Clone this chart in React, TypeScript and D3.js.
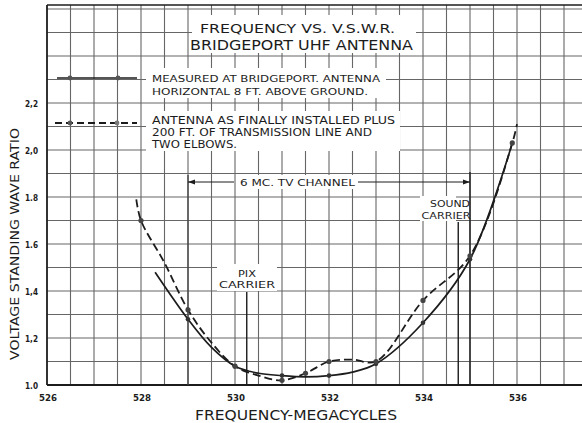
import React from "react";
import * as d3 from "d3";

// ---- data ----
const measuredFreq = [528.3, 529, 529.5, 530, 530.5, 531, 531.5, 532, 532.5, 533, 534, 535, 535.9];
const measuredVswr = [1.48, 1.28, 1.16, 1.08, 1.05, 1.04, 1.035, 1.04, 1.055, 1.09, 1.265, 1.535, 2.03];
const measuredMarkers = [529, 530, 531, 532, 533, 534, 535];

const installedFreq = [527.9, 528, 528.5, 529, 529.5, 530, 530.5, 531, 531.5, 532, 532.5, 533, 534, 535, 535.9, 536.0];
const installedVswr = [1.79, 1.7, 1.52, 1.32, 1.18, 1.08, 1.04, 1.02, 1.05, 1.1, 1.108, 1.1, 1.36, 1.55, 2.03, 2.11];
const installedMarkers = [528, 529, 530, 531, 531.5, 532, 533, 534, 535, 535.9];

const xTickValues = [526, 528, 530, 532, 534, 536];
const xTickLabels = ["526", "528", "530", "532", "534", "536"];
const yTickValues = [1.0, 1.2, 1.4, 1.6, 1.8, 2.0, 2.2];
const yTickLabels = ["1.0", "1,2", "1,4", "1.6", "1.8", "2,0", "2,2"];

const channelStart = 529;
const channelEnd = 535;
const pixCarrier = 530.25;
const soundCarrier = 534.75;

const W = 582;
const H = 423;
const FONT = "'DejaVu Sans', 'Liberation Sans', Arial, sans-serif";
const INK = "#1c1c1c";

export default function App() {
  const x = d3.scaleLinear().domain([526, 536]).range([47, 517]);
  const y = d3.scaleLinear().domain([1.0, 2.2]).range([385, 103]);
  const yTop = 5;
  const xRight = W;

  const vGrid = d3.range(526.5, 537.6, 0.5);
  const hGrid = d3.range(1.1, 2.65, 0.1);

  const line = d3
    .line<[number, number]>()
    .x((d) => x(d[0]))
    .y((d) => y(d[1]))
    .curve(d3.curveCatmullRom.alpha(0.5));

  const measured: [number, number][] = measuredFreq.map((f, i) => [f, measuredVswr[i]]);
  const installed: [number, number][] = installedFreq.map((f, i) => [f, installedVswr[i]]);
  const mVal = (f: number) => measuredVswr[measuredFreq.indexOf(f)];
  const iVal = (f: number) => installedVswr[installedFreq.indexOf(f)];

  const txt = (
    s: string,
    tx: number,
    ty: number,
    size: number,
    len?: number,
    anchor: "start" | "middle" | "end" = "start",
    weight: number | string = "normal"
  ) => (
    <text
      key={s + tx + ty}
      x={tx}
      y={ty}
      fontSize={size}
      fontWeight={weight}
      textAnchor={anchor}
      fill={INK}
      {...(len ? { textLength: len, lengthAdjust: "spacingAndGlyphs" } : {})}
    >
      {s}
    </text>
  );

  return (
    <svg
      width={W}
      height={H}
      style={{ position: "absolute", left: 0, top: 0, background: "#fff" }}
      fontFamily={FONT}
    >
      <rect x={0} y={0} width={W} height={H} fill="#fff" />
      {/* grid */}
      <g stroke="#666" strokeWidth={1.1}>
        {vGrid.map((v) => (
          <line key={"v" + v} x1={x(v)} x2={x(v)} y1={yTop} y2={y(1.0)} />
        ))}
        {hGrid.map((v) => (
          <line key={"h" + v} x1={x(526)} x2={xRight} y1={y(v)} y2={y(v)} />
        ))}
      </g>
      {/* frame */}
      <g stroke={INK} strokeWidth={1.8}>
        <line x1={x(526)} x2={x(526)} y1={yTop} y2={y(1.0)} />
        <line x1={x(526)} x2={xRight} y1={y(1.0)} y2={y(1.0)} />
        <line x1={x(526)} x2={xRight} y1={yTop} y2={yTop} strokeWidth={1.4} />
      </g>

      {/* white boxes behind texts */}
      <g fill="#fff">
        <rect x={192} y={15} width={224} height={38} />
        <rect x={146} y={68} width={240} height={30} />
        <rect x={146} y={111} width={254} height={40} />
        <rect x={236} y={175} width={122} height={14} />
        <rect x={217} y={264} width={60} height={27} />
        <rect x={420} y={196} width={36} height={25} />
      </g>

      {/* title */}
      {txt("FREQUENCY  VS.  V.S.W.R.", 200, 33, 13, 195)}
      {txt("BRIDGEPORT  UHF  ANTENNA", 190, 50, 13.5, 223)}

      {/* legend */}
      <line x1={57} x2={137} y1={78} y2={78} stroke={INK} strokeWidth={1.6} />
      <circle cx={70} cy={78} r={2.4} fill="#555" />
      <circle cx={118} cy={78} r={2.4} fill="#555" />
      {txt("MEASURED AT BRIDGEPORT. ANTENNA", 152, 82, 9.5, 228)}
      {txt("HORIZONTAL 8 FT. ABOVE GROUND.", 152, 95, 9.5, 216)}
      <line x1={55} x2={137} y1={123} y2={123} stroke={INK} strokeWidth={1.8} strokeDasharray="7,4" />
      <circle cx={70} cy={123} r={2.4} fill="#555" />
      <circle cx={117} cy={123} r={2.4} fill="#777" />
      {txt("ANTENNA AS FINALLY INSTALLED PLUS", 152, 124, 10, 243)}
      {txt("200 FT. OF TRANSMISSION LINE AND", 152, 136, 10, 220)}
      {txt("TWO ELBOWS.", 152, 148, 10, 85)}

      {/* channel markers */}
      <g stroke={INK} strokeWidth={1.4}>
        <line x1={x(channelStart)} x2={x(channelStart)} y1={175} y2={y(1.0)} strokeWidth={1.3} stroke="#444" />
        <line x1={x(channelEnd)} x2={x(channelEnd)} y1={172} y2={y(1.0)} />
        <line x1={x(channelStart)} x2={234} y1={182} y2={182} strokeWidth={1} />
        <line x1={358} x2={x(channelEnd)} y1={182} y2={182} strokeWidth={1} />
        <line x1={x(pixCarrier)} x2={x(pixCarrier)} y1={292} y2={y(1.0)} />
        <line x1={x(soundCarrier)} x2={x(soundCarrier)} y1={222} y2={y(1.0)} />
      </g>
      <path d={`M${x(channelEnd)},182 l-7,-2.5 l0,5 z`} fill={INK} />
      <path d={`M${x(channelStart)},182 l7,-2.5 l0,5 z`} fill={INK} />
      {txt("6 MC. TV CHANNEL", 240, 186, 9.5, 115)}
      {txt("PIX", 247, 277, 9.5, 18, "middle")}
      {txt("CARRIER", 247, 288, 9.5, 56, "middle")}
      {txt("SOUND", 450, 207, 9.5, 40, "middle")}
      {txt("CARRIER", 446, 219, 9.5, 49, "middle")}

      {/* curves */}
      <path d={line(measured) || ""} fill="none" stroke={INK} strokeWidth={1.7} />
      <path d={line(installed) || ""} fill="none" stroke={INK} strokeWidth={1.8} strokeDasharray="8,4" />
      {measuredMarkers.map((f) => (
        <circle key={"m" + f} cx={x(f)} cy={y(mVal(f))} r={2.3} fill="#333" />
      ))}
      {installedMarkers.map((f) => (
        <circle key={"i" + f} cx={x(f)} cy={y(iVal(f))} r={2.6} fill="#444" />
      ))}

      {/* axes labels */}
      {xTickValues.map((v, i) => txt(xTickLabels[i], x(v) + 1, 401, 9, 18, "middle", "bold"))}
      {yTickValues.map((v, i) => txt(yTickLabels[i], 38, y(v) + 4, 9, 13, "end", "bold"))}
      <text
        transform={`translate(19,244) rotate(-90)`}
        textAnchor="middle"
        fontSize={12}
        fill={INK}
        textLength={232}
        lengthAdjust="spacingAndGlyphs"
      >
        VOLTAGE STANDING WAVE RATIO
      </text>
      {txt("FREQUENCY-MEGACYCLES", 195, 420, 14, 202)}
    </svg>
  );
}
